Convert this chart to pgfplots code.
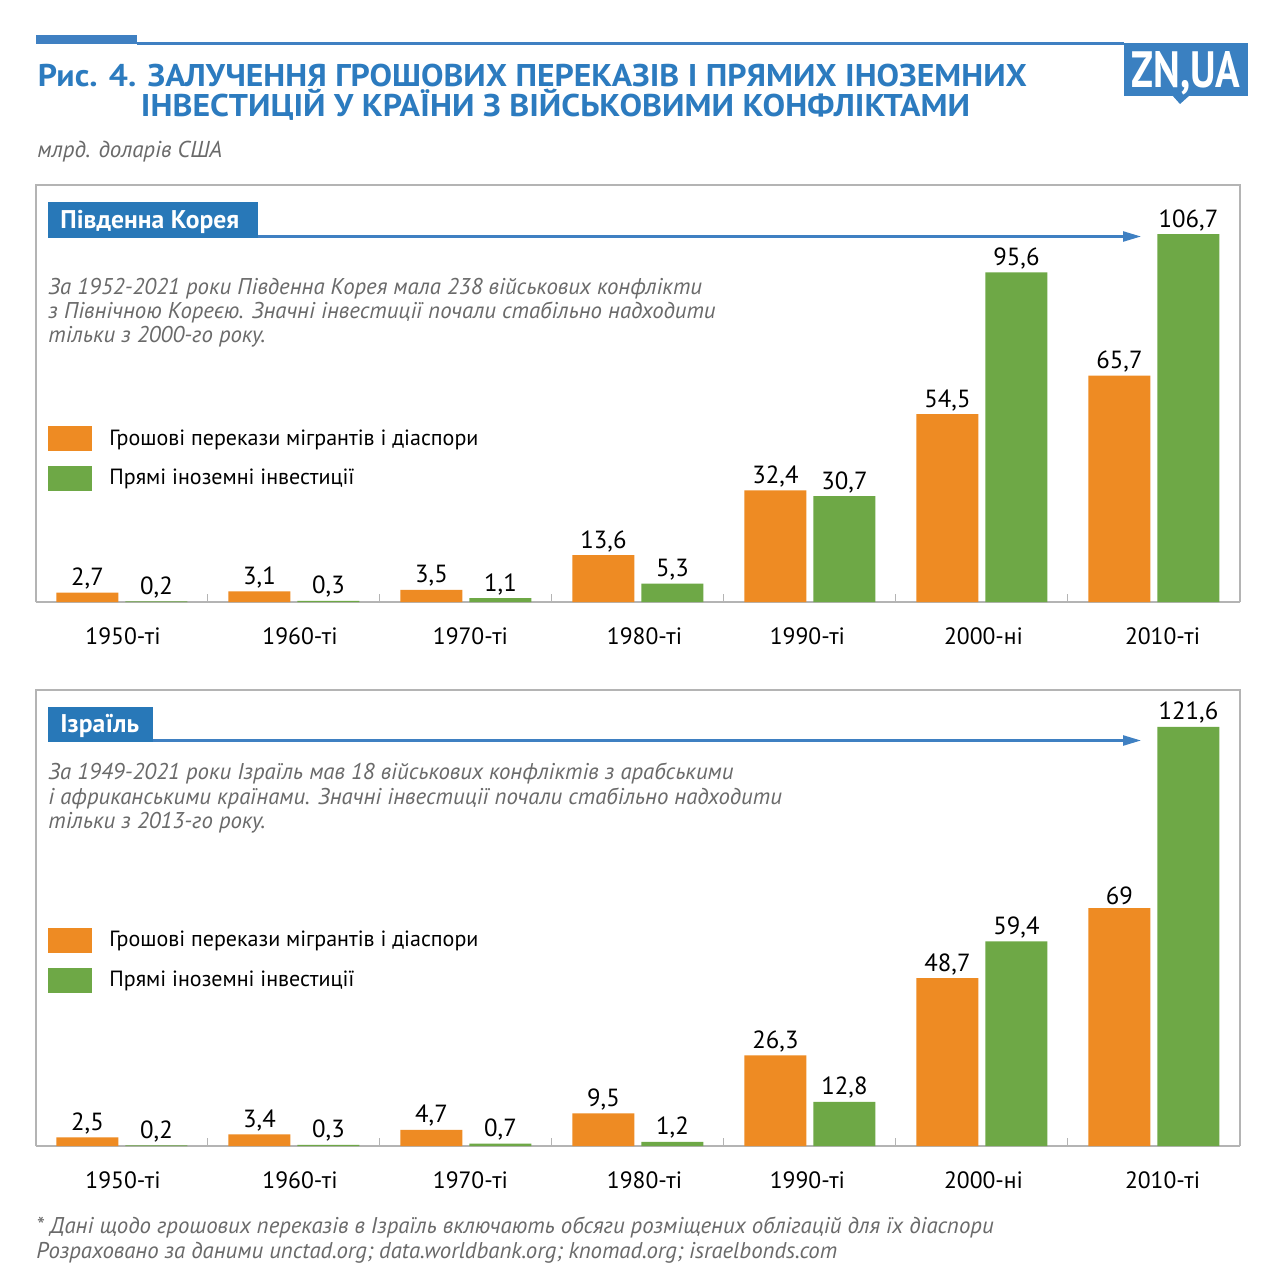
\documentclass[border=0pt]{standalone}
\usepackage{fontspec}
\setmainfont{PT Sans}
\usepackage{pgfplots}
\pgfplotsset{compat=1.18}
\usetikzlibrary{arrows.meta}

\definecolor{titleblue}{HTML}{2C7BBF}
\definecolor{headblue}{HTML}{2878B8}
\definecolor{lineblue}{HTML}{3F80C2}
\definecolor{logoblue}{HTML}{3A80C1}
\definecolor{korange}{HTML}{EE8B23}
\definecolor{kgreen}{HTML}{6EA846}
\definecolor{txtgray}{HTML}{6A6A6A}
\definecolor{framegray}{HTML}{B4B4B4}

% 1 px of the reference = 0.5pt; y scale 3.447 px per bn USD
\pgfplotsset{
  decades/.style={
    scale only axis, width=602pt,
    xmin=-0.5, xmax=6.5, ymin=0, enlargelimits=false,
    ybar=3.5pt, bar width=31pt,
    axis x line*=bottom, axis y line=none, ytick=\empty,
    x axis line style={draw=framegray, line width=0.8pt, -},
    xtick={0.006,1.035,2.026,3.038,3.985,5.009,6.05},
    xticklabels={1950-ті,1960-ті,1970-ті,1980-ті,1990-ті,2000-ні,2010-ті},
    major x tick style={draw=none},
    minor xtick={0.5,1.5,...,5.5},
    minor x tick style={draw=framegray, line width=0.5pt},
    minor tick length=4pt, tick align=inside,
    xticklabel style={font=\fontsize{11.8}{13}\selectfont, yshift=-9.5pt},
    nodes near coords,
    nodes near coords style={font=\fontsize{12.4}{14}\selectfont, inner sep=1.5pt, black},
    /pgf/number format/use comma,
    /pgf/number format/assume math mode=true,
    /pgf/number format/1000 sep={},
    legend image code/.code={\fill[##1, draw=none] (0pt,-6.25pt) rectangle (22pt,6.25pt);},
    legend cell align=left,
    legend style={draw=none, fill=none, inner sep=0pt, column sep=6.5pt, row sep=6.5pt,
      font=\fontsize{11}{13}\selectfont, anchor=north west},
  }
}

\begin{document}
\begin{tikzpicture}
\begin{scope}[x=0.5pt, y=-0.5pt]
  \path[use as bounding box, fill=white] (0,0) rectangle (1280,1279);
  % top rule and logo
  \fill[lineblue] (36,35) rectangle (137,44.5);
  \draw[lineblue, line width=1.1pt] (137,43.6) -- (1124,43.6);
  \fill[logoblue] (1124,43) rectangle (1248,96);
  \fill[logoblue] (1172,95) -- (1190,95) -- (1180,104) -- cycle;
  \node[white, anchor=base, inner sep=0pt] at (1186,88) {\resizebox{54.5pt}{18pt}{\bfseries ZN,UA}};
  % title
  \node[titleblue, anchor=base, inner sep=0pt] at (532.5,87)
    {\resizebox{494.5pt}{\height}{\fontsize{15.7}{17}\selectfont\bfseries Рис. 4. ЗАЛУЧЕННЯ ГРОШОВИХ ПЕРЕКАЗІВ І ПРЯМИХ ІНОЗЕМНИХ}};
  \node[titleblue, anchor=base, inner sep=0pt] at (555.5,117)
    {\resizebox{414.5pt}{\height}{\fontsize{15.7}{17}\selectfont\bfseries ІНВЕСТИЦІЙ У КРАЇНИ З ВІЙСЬКОВИМИ КОНФЛІКТАМИ}};
  \node[txtgray, anchor=base west, inner sep=0pt, font=\fontsize{11.5}{13}\selectfont\itshape] at (37,157) {млрд. доларів США};

  % panel frames
  \draw[framegray, line width=0.75pt] (36,602) -- (36,185) -- (1240,185) -- (1240,602);
  \draw[framegray, line width=0.75pt] (36,1146) -- (36,690) -- (1240,690) -- (1240,1146);

  % panel 1 header
  \fill[headblue] (48,202) rectangle (258,237.5);
  \node[white, anchor=base west, inner sep=0pt, font=\fontsize{12.8}{14}\selectfont\bfseries] at (60,228) {Південна Корея};
  \draw[lineblue, line width=1.2pt, -{Stealth[length=9pt, width=5pt, inset=0pt]}] (258,236.5) -- (1141,236.5);
  \begin{scope}[txtgray, font=\fontsize{11.4}{13}\selectfont\itshape]
    \node[anchor=base west, inner sep=0pt] at (48,294) {За 1952-2021 роки Південна Корея мала 238 військових конфлікти};
    \node[anchor=base west, inner sep=0pt] at (48,318) {з Північною Кореєю. Значні інвестиції почали стабільно надходити};
    \node[anchor=base west, inner sep=0pt] at (48,342) {тільки з 2000-го року.};
  \end{scope}

  % panel 2 header
  \fill[headblue] (48,707) rectangle (153,741.5);
  \node[white, anchor=base west, inner sep=0pt, font=\fontsize{12.8}{14}\selectfont\bfseries] at (60,732) {Ізраїль};
  \draw[lineblue, line width=1.2pt, -{Stealth[length=9pt, width=5pt, inset=0pt]}] (153,740.5) -- (1141,740.5);
  \begin{scope}[txtgray, font=\fontsize{11.4}{13}\selectfont\itshape]
    \node[anchor=base west, inner sep=0pt] at (48,779) {За 1949-2021 роки Ізраїль мав 18 військових конфліктів з арабськими};
    \node[anchor=base west, inner sep=0pt] at (48,804) {і африканськими країнами. Значні інвестиції почали стабільно надходити};
    \node[anchor=base west, inner sep=0pt] at (48,828) {тільки з 2013-го року.};
  \end{scope}

  % footnotes
  \begin{scope}[txtgray, font=\fontsize{11.4}{13}\selectfont\itshape]
    \node[anchor=base west, inner sep=0pt] at (36,1233) {* Дані щодо грошових переказів в Ізраїль включають обсяги розміщених облігацій для їх діаспори};
    \node[anchor=base west, inner sep=0pt] at (36,1258) {Розраховано за даними unctad.org; data.worldbank.org; knomad.org; israelbonds.com};
  \end{scope}
\end{scope}

% South Korea
\begin{axis}[decades, at={(18pt,-301pt)}, anchor=south west,
    height=189.6pt, ymax=110,
    legend style={at={(0.00997,0.4665)}}]
  \addplot[fill=korange, draw=none] coordinates {(0,2.7) (1,3.1) (2,3.5) (3,13.6) (4,32.4) (5,54.5) (6,65.7)};
  \addplot[fill=kgreen, draw=none] coordinates {(0,0.2) (1,0.3) (2,1.1) (3,5.3) (4,30.7) (5,95.6) (6,106.7)};
  \legend{Грошові перекази мігрантів і діаспори, Прямі іноземні інвестиції}
\end{axis}

% Israel
\begin{axis}[decades, at={(18pt,-573pt)}, anchor=south west,
    height=215.4pt, ymax=125,
    legend style={at={(0.00997,0.5084)}}]
  \addplot[fill=korange, draw=none] coordinates {(0,2.5) (1,3.4) (2,4.7) (3,9.5) (4,26.3) (5,48.7) (6,69)};
  \addplot[fill=kgreen, draw=none] coordinates {(0,0.2) (1,0.3) (2,0.7) (3,1.2) (4,12.8) (5,59.4) (6,121.6)};
  \legend{Грошові перекази мігрантів і діаспори, Прямі іноземні інвестиції}
\end{axis}
\end{tikzpicture}
\end{document}
